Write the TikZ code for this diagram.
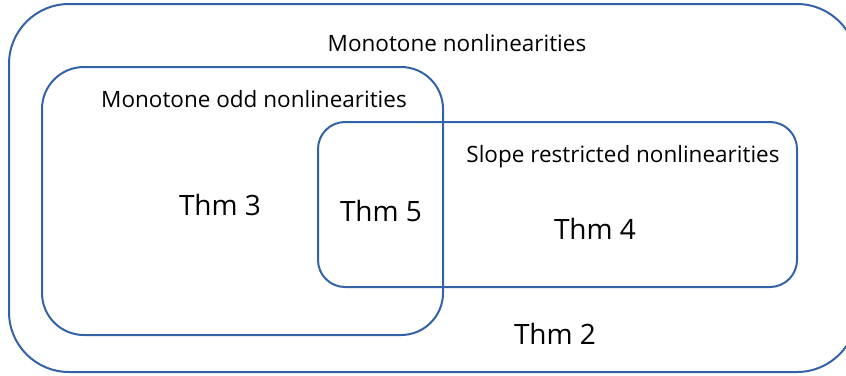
\documentclass[tikz,border=0pt]{standalone}
\usepackage{fontspec}
\setmainfont{Open Sans}
\definecolor{setblue}{RGB}{52,98,166}
\tikzset{
  setline/.style={draw=setblue, line width=2pt},
  setlabel/.style={font=\fontsize{22.5}{26}\selectfont},
  thmlabel/.style={font=\fontsize{28}{33}\selectfont}
}
\begin{document}
\begin{tikzpicture}[x=1pt,y=-1pt]
  \useasboundingbox (0,0) rectangle (846,375);
  \begin{scope}
    \clip (0,0) rectangle (846,375);
    % the three sets
    \draw[setline, rounded corners=60pt] (9,4) rectangle (857,372);
    \draw[setline, rounded corners=42pt] (42,67) rectangle (443,335);
    \draw[setline, rounded corners=27pt] (318,122) rectangle (797,287);
  \end{scope}
  \node[setlabel] (mono) at (457,43) {Monotone nonlinearities};
  \node[setlabel] (odd) at (254,99) {Monotone odd nonlinearities};
  \node[setlabel] (slope) at (623,157) {Slope restricted nonlinearities};
  \node[thmlabel] (thm3) at (220,205) {Thm 3};
  \node[thmlabel] (thm5) at (381,211) {Thm 5};
  \node[thmlabel] (thm4) at (595,229) {Thm 4};
  \node[thmlabel] (thm2) at (555,334) {Thm 2};
\end{tikzpicture}
\end{document}
